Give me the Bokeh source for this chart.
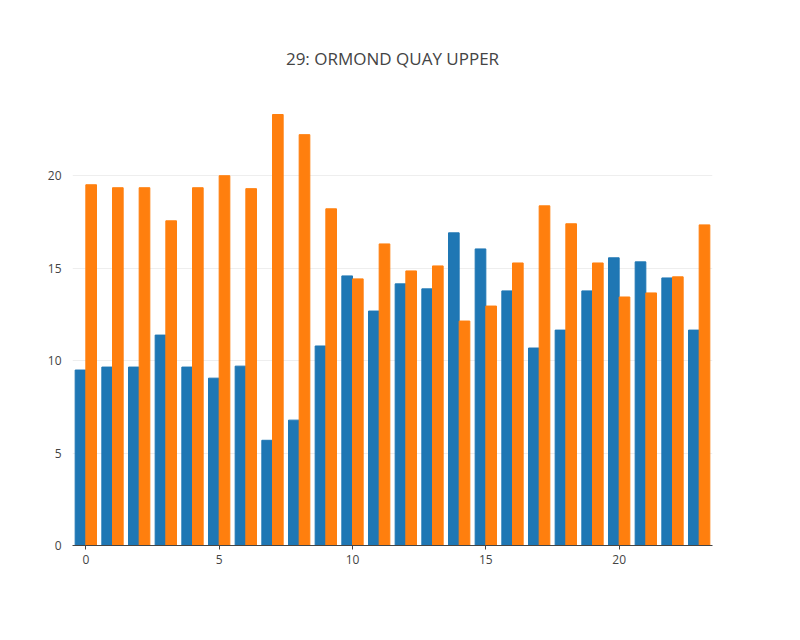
from bokeh.plotting import figure
from bokeh.models import Legend, LegendItem, FixedTicker
from bokeh.embed import file_html
from bokeh.resources import INLINE

hours = list(range(24))
avg_bikes = [9.49, 9.65, 9.65, 11.38, 9.65, 9.05, 9.7, 5.69, 6.78, 10.79, 14.58, 12.68,
             14.15, 13.88, 16.91, 16.04, 13.77, 10.68, 11.65, 13.77, 15.56, 15.34, 14.47, 11.65]
avg_stands = [19.51, 19.35, 19.35, 17.56, 19.35, 20.0, 19.3, 23.31, 22.22, 18.21, 14.42, 16.31,
              14.85, 15.12, 12.14, 12.95, 15.28, 18.37, 17.4, 15.28, 13.44, 13.66, 14.53, 17.34]

FONT = "Open Sans"
p = figure(width=790, height=630, output_backend="svg", toolbar_location=None,
           x_range=(-0.5, 23.5), y_range=(0, 24.5), title="29: ORMOND QUAY UPPER",
           min_border_left=72, min_border_right=78, min_border_top=92, min_border_bottom=85)
p.title.align = "center"
p.title.text_font = FONT
p.title.text_font_size = "17px"
p.title.text_font_style = "normal"
p.title.text_color = "#444"
p.title.standoff = 45

b = p.vbar(x=[h - 0.2 for h in hours], top=avg_bikes, width=0.4, color="#1f77b4")
s = p.vbar(x=[h + 0.2 for h in hours], top=avg_stands, width=0.4, color="#ff7f0e")

p.outline_line_color = None
p.xgrid.visible = False
p.ygrid.grid_line_color = "#eeeeee"
p.xaxis.ticker = FixedTicker(ticks=[0, 5, 10, 15, 20])
p.yaxis.ticker = FixedTicker(ticks=[0, 5, 10, 15, 20])
for ax in (p.xaxis, p.yaxis):
    ax.major_label_text_font = FONT
    ax.major_label_text_font_size = "12px"
    ax.major_label_text_color = "#444"
    ax.minor_tick_line_color = None
p.xaxis.axis_line_color = "#444"
p.xaxis.major_tick_line_color = "#444"
p.xaxis.major_tick_out = 4
p.xaxis.major_tick_in = 0
p.yaxis.axis_line_color = None
p.yaxis.major_tick_line_color = None

legend = Legend(items=[LegendItem(label="Avg Bikes Available", renderers=[b]),
                       LegendItem(label="Avg Stands Available", renderers=[s])],
                orientation="horizontal", location=(12, -70), border_line_color=None,
                background_fill_alpha=0,
                label_text_font=FONT, label_text_font_size="12px", label_text_color="#444",
                glyph_width=12, glyph_height=12, spacing=20, margin=0, padding=0)
p.add_layout(legend)

open("out.html", "w").write(file_html(p, INLINE))
